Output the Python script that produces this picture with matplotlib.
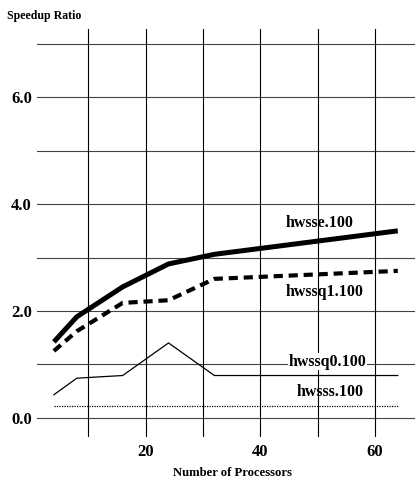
import matplotlib
matplotlib.use("Agg")
import matplotlib.pyplot as plt

# data
procs = [4, 8, 16, 24, 32, 64]
hwsse = [1.42, 1.89, 2.45, 2.88, 3.06, 3.50]
hwssq1 = [1.25, 1.62, 2.15, 2.20, 2.60, 2.75]
hwssq0 = [0.43, 0.74, 0.79, 1.40, 0.79, 0.79]
hwsss = [0.22, 0.22, 0.22, 0.22, 0.22, 0.22]

yticks = [0, 1, 2, 3, 4, 5, 6, 7]
ytick_labels = ['0.0', '', '2.0', '', '4.0', '', '6.0', '']
xticks = [10, 20, 30, 40, 50, 60]
xtick_labels = ['', '20', '', '40', '', '60']

plt.rcParams['font.family'] = ['Liberation Serif', 'DejaVu Serif']
plt.rcParams['font.weight'] = 'bold'

fig = plt.figure(figsize=(4.15, 4.78), dpi=100)
ax = fig.add_axes([0.0884, 0.0864, 0.9116, 0.8529])

# grid drawn by hand so horizontals and verticals can differ
for y in yticks:
    ax.axhline(y, color='#444444', lw=0.8, zorder=1)
for x in xticks:
    ax.axvline(x, color='black', lw=0.8, zorder=1)

ax.plot(procs, hwsse, color='black', lw=3.6, solid_capstyle='butt', zorder=3)
ax.plot(procs, hwssq1, color='black', lw=3.0, dashes=(2.2, 1.4), zorder=3)
ax.plot(procs, hwssq0, color='black', lw=0.9, zorder=3)
ax.plot(procs, hwsss, color='black', lw=0.9, ls=(0, (1, 1)), zorder=3)

fs = 11.5
ax.text(50.4, 3.65, 'hwsse.100', ha='center', va='center', fontsize=fs, fontweight='bold')
ax.text(51.3, 2.36, 'hwssq1.100', ha='center', va='center', fontsize=fs, fontweight='bold')
ax.text(51.8, 1.05, 'hwssq0.100', ha='center', va='center', fontsize=fs, fontweight='bold',
        bbox=dict(facecolor='white', edgecolor='none', pad=0.5), zorder=4)
ax.text(52.2, 0.48, 'hwsss.100', ha='center', va='center', fontsize=fs, fontweight='bold')

ax.set_xlim(1, 67)
ax.set_ylim(-0.356, 7.28)
ax.set_yticks(yticks)
ax.set_yticklabels(ytick_labels, fontsize=12, fontweight='bold')
ax.set_xticks(xticks)
ax.set_xticklabels(xtick_labels, fontsize=12, fontweight='bold')
ax.tick_params(length=0, pad=3.4)
ax.tick_params(axis='x', pad=5)
for s in ax.spines.values():
    s.set_visible(False)

fig.text(7 / 415, 1 - 16 / 478, 'Speedup Ratio', ha='left', va='center', fontsize=8.6, fontweight='bold')
fig.text(232 / 415, 1 - 473 / 478, 'Number of Processors', ha='center', va='center', fontsize=9.1, fontweight='bold')

fig.savefig('out.png', dpi=100)
